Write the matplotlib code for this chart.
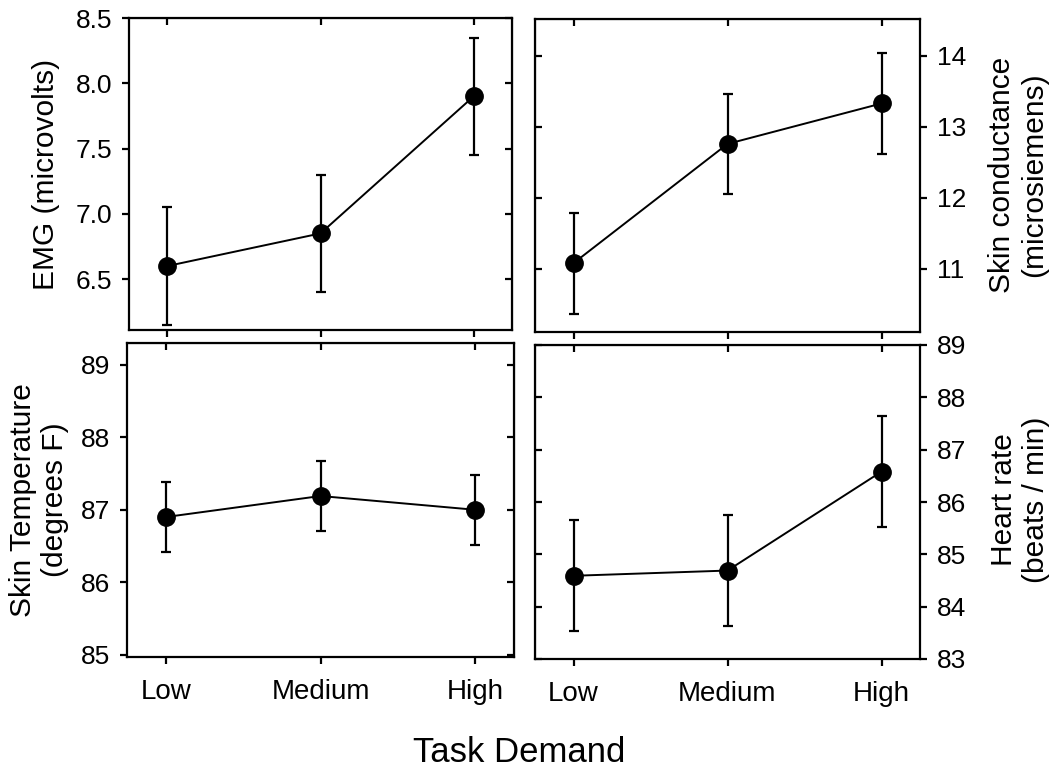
import matplotlib
matplotlib.use("Agg")
from matplotlib import pyplot as plt

plt.rcParams['font.family'] = ['Liberation Sans', 'DejaVu Sans']

levels = ['Low', 'Medium', 'High']

emg = [6.6, 6.85, 7.9]
emg_err = [0.45, 0.45, 0.45]

scl = [11.08, 12.76, 13.33]
scl_err = [0.71, 0.70, 0.71]

temp = [86.9, 87.19, 87.0]
temp_err = [0.48, 0.48, 0.48]

hr = [84.59, 84.69, 86.58]
hr_err = [1.06, 1.06, 1.06]

W, H = 1050, 779
fig = plt.figure(figsize=(10.5, 7.79), dpi=100)


def px_axes(l, r, t, b):
    return fig.add_axes([l / W, 1 - b / H, (r - l) / W, (b - t) / H])


def panel(ax, y, err, ylim, yticks, side, show_x):
    x = list(range(len(levels)))
    ax.errorbar(x, y, yerr=err, color='black', lw=1.4, marker='o', ms=12.5,
                elinewidth=1.6, capsize=3.5, capthick=1.6)
    ax.set_xlim(-0.25, 2.25)
    ax.set_ylim(*ylim)
    ax.set_xticks(x)
    ax.set_yticks(yticks)
    for s in ax.spines.values():
        s.set_linewidth(1.6)
    ax.tick_params(axis='both', direction='out', length=5, width=1.6, labelsize=19)
    ax.tick_params(axis='x', pad=11, labelsize=20)
    if show_x:
        ax.set_xticklabels(levels)
    else:
        ax.set_xticklabels([])
    # ticks pointing inward on the unlabeled sides
    top = ax.secondary_xaxis('top')
    top.set_xticks(x)
    top.tick_params(direction='in', length=5, width=1.6, labeltop=False)
    if side == 'right':
        ax.yaxis.tick_right()
        ax.tick_params(axis='y', pad=7)
        other = ax.secondary_yaxis('left')
        other.tick_params(direction='in', length=5, width=1.6, labelleft=False)
    else:
        ax.tick_params(axis='y', pad=7)
        other = ax.secondary_yaxis('right')
        other.tick_params(direction='in', length=5, width=1.6, labelright=False)
    other.set_yticks(yticks)


ax1 = px_axes(129, 512, 18, 330)
panel(ax1, emg, emg_err, (6.11, 8.5), [6.5, 7.0, 7.5, 8.0, 8.5], 'left', False)
ax1.yaxis.set_major_formatter(matplotlib.ticker.FormatStrFormatter('%.1f'))

ax2 = px_axes(535, 920, 19, 332)
panel(ax2, scl, scl_err, (10.11, 14.52), [11, 12, 13, 14], 'right', False)

ax3 = px_axes(127, 514, 343, 657)
panel(ax3, temp, temp_err, (84.97, 89.3), [85, 86, 87, 88, 89], 'left', True)

ax4 = px_axes(535, 920, 345, 659)
panel(ax4, hr, hr_err, (83, 89), [83, 84, 85, 86, 87, 88, 89], 'right', True)

lab = dict(rotation=90, ha='center', va='center', fontsize=21.5,
           multialignment='center', linespacing=1.2)
fig.text(46 / W, 1 - 174 / H, 'EMG (microvolts)', **lab)
fig.text(1018 / W, 1 - 175 / H, 'Skin conductance\n(microsiemens)', **lab)
fig.text(39 / W, 1 - 500 / H, 'Skin Temperature\n(degrees F)', **lab)
fig.text(1020 / W, 1 - 500 / H, 'Heart rate\n(beats / min)', **lab)
fig.text(519 / W, 1 - 753 / H, 'Task Demand', ha='center', va='center', fontsize=25)

fig.savefig('out.png', dpi=100)
